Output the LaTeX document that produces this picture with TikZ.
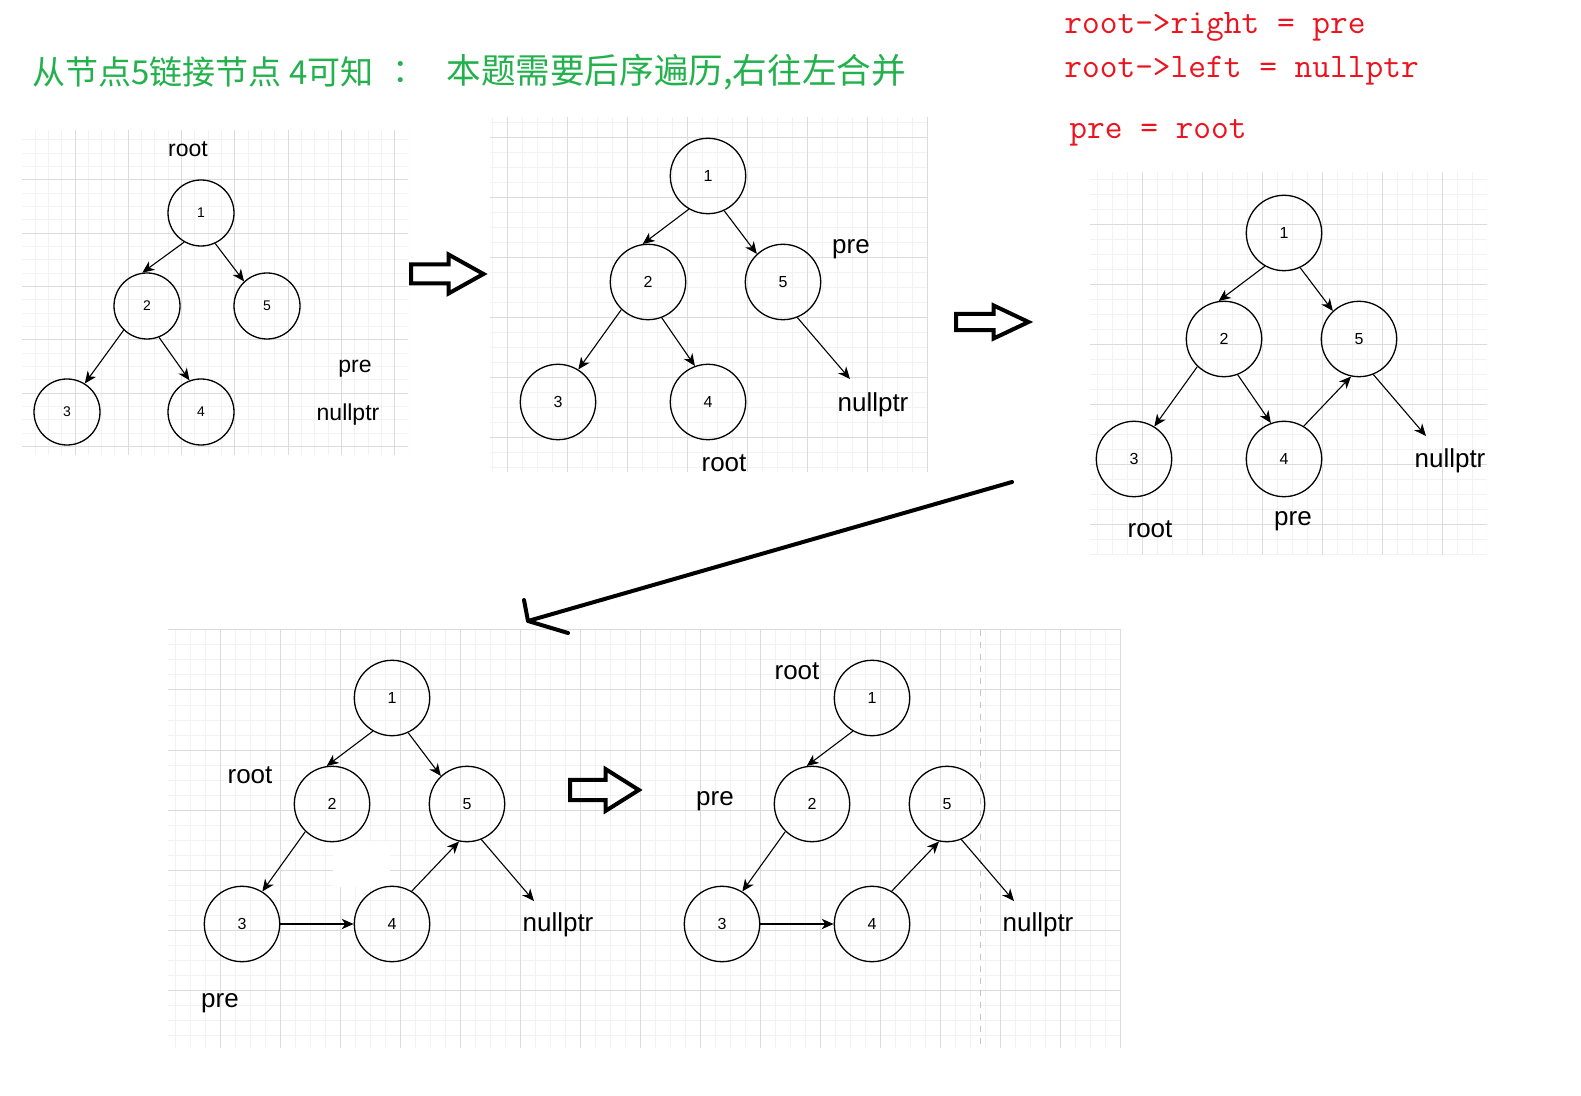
\documentclass[tikz,border=0pt]{standalone}
\usepackage{fontspec}
\setmainfont{Liberation Sans}
\newfontfamily\cjkfont{Noto Sans CJK SC}
\usetikzlibrary{arrows.meta}
\definecolor{titlegreen}{RGB}{34,177,76}
\definecolor{codered}{RGB}{235,20,30}
\definecolor{gridmajor}{RGB}{220,220,220}
\definecolor{gridminor}{RGB}{242,242,242}

\begin{document}
\begin{tikzpicture}[x=0.5pt, y=-0.5pt,
  tnode/.style={circle, draw, line width=0.65pt, minimum size=37.7pt, inner sep=0pt, font=\fontsize{8}{9}\selectfont},
  snode/.style={tnode, minimum size=33pt, font=\fontsize{7}{8}\selectfont},
  link/.style={-{Stealth[length=6pt, width=5.2pt, inset=1.8pt]}, line width=0.55pt},
  lbl/.style={inner sep=0pt, font=\fontsize{13}{15}\selectfont},
  slbl/.style={inner sep=0pt, font=\fontsize{11.5}{13}\selectfont},
  ttl/.style={inner sep=0pt, text=titlegreen, font=\cjkfont\fontsize{16.5}{18}\selectfont},
  codetxt/.style={inner sep=0pt, anchor=west, text=codered, font=\ttfamily\fontsize{17.2}{19}\selectfont},
  hollowarr/.pic={\draw[line width=2pt] (0,-9.5) -- (37.5,-9.5) -- (37.5,-19.5) -- (72.5,0) -- (37.5,19.5) -- (37.5,9.5) -- (0,9.5) -- cycle;}]

\fill[white] (0,0) rectangle (1581,1096);
\useasboundingbox (0,0) rectangle (1581,1096);

% grid paper behind each step
\foreach \gl/\gt/\gr/\gb/\mx/\my/\ms in {22/130/408/455/75/180/53.33, 490/117/928/472/507/138/60,
    1090/172/1487/555/1142/225/60, 168/630/1121/1048/220/690/60} {
  \begin{scope}
    \clip (\gl,\gt) rectangle (\gr,\gb);
    \foreach \i in {-70,...,70} {
      \draw[gridminor, line width=0.5pt] (\mx+\i*\ms/4,\gt) -- (\mx+\i*\ms/4,\gb);
      \draw[gridminor, line width=0.5pt] (\gl,\my+\i*\ms/4) -- (\gr,\my+\i*\ms/4);
    }
    \foreach \i in {-18,...,18} {
      \draw[gridmajor, line width=0.5pt] (\mx+\i*\ms,\gt) -- (\mx+\i*\ms,\gb);
      \draw[gridmajor, line width=0.5pt] (\gl,\my+\i*\ms) -- (\gr,\my+\i*\ms);
    }
  \end{scope}
}
\fill[white] (333,842) rectangle (390,887);
\draw[gray!45, dashed, line width=0.5pt] (980,630) -- (980,1048);

% trees
\foreach \n/\x/\y in {1/201/213, 2/147/306, 5/267/306, 3/67/412, 4/201/412}
  \node[snode] (a\n) at (\x,\y) {\n};
\foreach \tr/\ox/\oy in {b/708/176, c/1284/233, d/392/698, e/872/698} {
  \foreach \n/\dx/\dy in {1/0/0, 2/-60/106, 5/75/106, 3/-150/226, 4/0/226}
    \node[tnode] (\tr\n) at (\ox+\dx,\oy+\dy) {\n};
}

\foreach \tr in {a,b,c,d,e} \draw[link] (\tr1.240) -- (\tr2.98);
\foreach \tr in {a,b,c,d} \draw[link] (\tr1.295) -- (\tr5.133);
\foreach \tr in {a,b,c,d,e} \draw[link] (\tr2.226) -- (\tr3.58);
\foreach \tr in {a,b,c} \draw[link] (\tr2.291) -- (\tr4.110);
\foreach \tr in {c,d,e} \draw[link] (\tr4.59) -- (\tr5.258);
\foreach \tr in {d,e} \draw[link] (\tr3) -- (\tr4);
\foreach \tr in {b,c,d,e} {
  \coordinate (nil\tr) at ([shift={(67,97)}]\tr5.center);
  \draw[link] (\tr5.292) -- (nil\tr);
}

% pointer labels
\node[slbl] (aroot) at (188,149) {root};
\node[slbl] (apre) at (355,369) {pre};
\node[slbl] (anull) at (348,415) {nullptr};
\node[lbl] (bpre) at (851,249) {pre};
\node[lbl] (bnull) at (873,405) {nullptr};
\node[lbl] (broot) at (724,463) {root};
\node[lbl] (croot) at (1150,529) {root};
\node[lbl] (cpre) at (1293,521) {pre};
\node[lbl] (cnull) at (1450,461) {nullptr};
\node[lbl] (droot) at (250,775) {root};
\node[lbl] (dnull) at (558,925) {nullptr};
\node[lbl] (dpre) at (220,1003) {pre};
\node[lbl] (eroot) at (797,671) {root};
\node[lbl] (epre) at (715,801) {pre};
\node[lbl] (enull) at (1038,925) {nullptr};

% step arrows
\pic at (411,274) {hollowarr};
\pic[yscale=0.85] at (956,322) {hollowarr};
\pic[xscale=0.95, yscale=1.07] at (570,790) {hollowarr};
\coordinate (bigfrom) at (1012,482);
\coordinate (bigto) at (528,621);
\draw[line width=2pt, line cap=round] (bigfrom) -- (bigto);
\draw[line width=2pt, line cap=round, line join=round] ([shift={(-4,-21)}]bigto) -- (bigto) -- ([shift={(40,12)}]bigto);

% text
\node[ttl, anchor=west] (ttlleft) at (32,72) {从节点5链接节点 4可知};
\node[ttl] (ttlcolon) at (409,72) {：};
\node[ttl, anchor=west, font=\cjkfont\fontsize{17.3}{19}\selectfont] (ttlright) at (446,72) {本题需要后序遍历,右往左合并};
\node[codetxt] (coderight) at (1064,27) {root->right = pre};
\node[codetxt] (codeleft) at (1064,71) {root->left = nullptr};
\node[codetxt] (codepre) at (1069,133) {pre = root};
\end{tikzpicture}
\end{document}
